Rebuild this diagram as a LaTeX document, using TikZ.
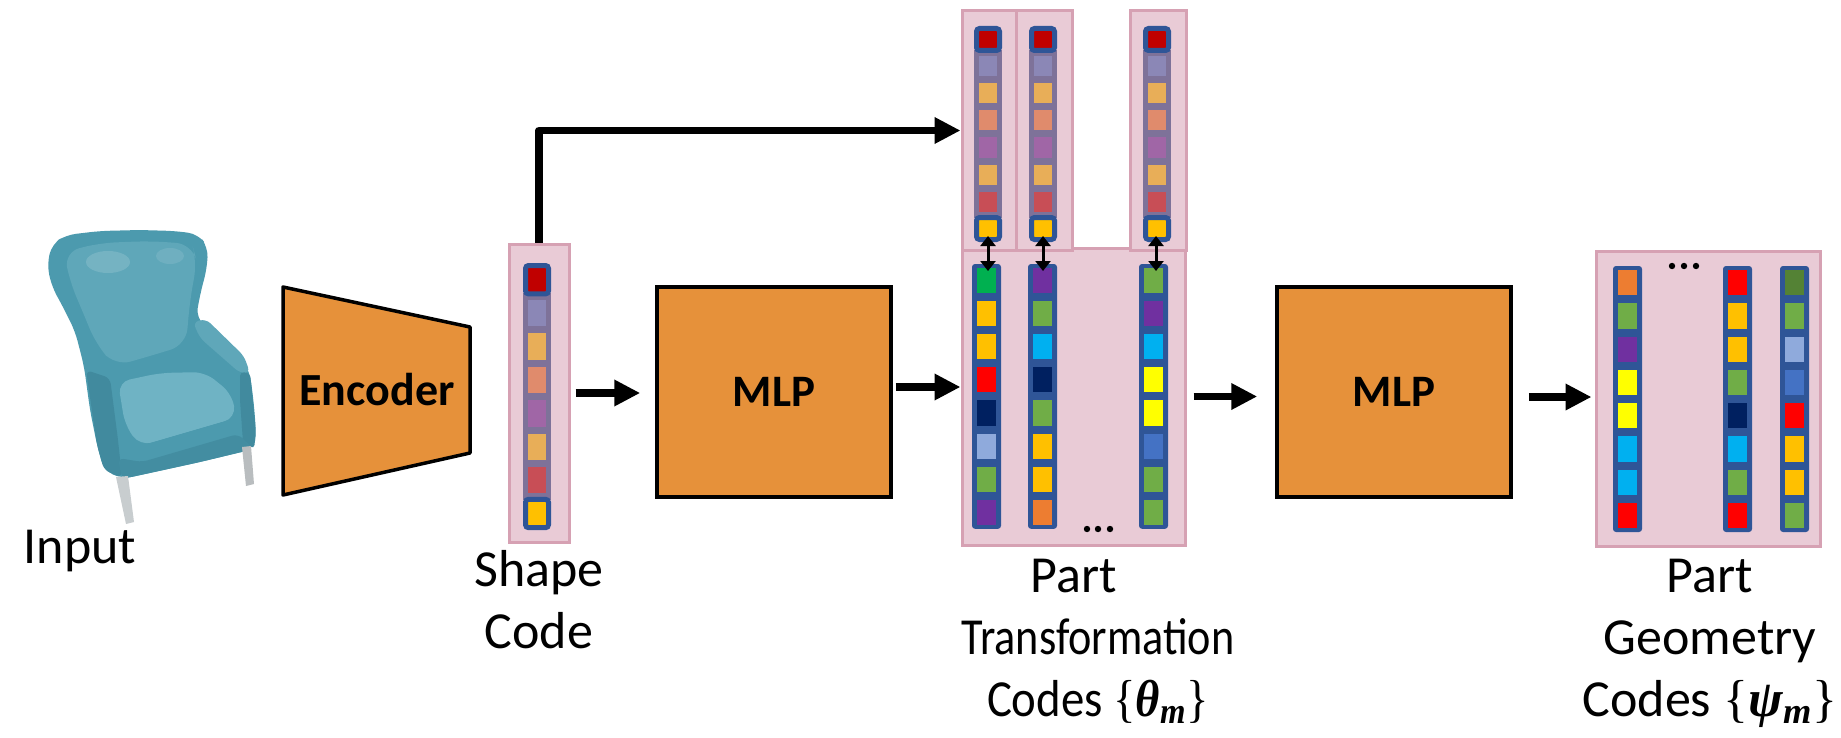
\documentclass[tikz,border=0pt]{standalone}
\usepackage{fontspec}
\setmainfont{Carlito}
\newfontfamily\greekserif{Liberation Serif}
\usetikzlibrary{arrows.meta,fit}

% box and frame colours
\definecolor{boxorange}{HTML}{E6913A}
\definecolor{codeblue}{HTML}{2F5597}
\definecolor{fadeblue}{HTML}{7E7299}
\definecolor{pinkfill}{HTML}{E9CBD6}
\definecolor{pinkline}{HTML}{D6A1B3}
% code entries
\definecolor{cgreen}{HTML}{00B050}
\definecolor{cgold}{HTML}{FFC000}
\definecolor{cred}{HTML}{FF0000}
\definecolor{cnavy}{HTML}{002060}
\definecolor{cpale}{HTML}{8FAADC}
\definecolor{clime}{HTML}{70AD47}
\definecolor{cpurple}{HTML}{7030A0}
\definecolor{ccyan}{HTML}{00B0F0}
\definecolor{corange}{HTML}{ED7D31}
\definecolor{cyellow}{HTML}{FFFF00}
\definecolor{cblue}{HTML}{4472C4}
\definecolor{cdkgreen}{HTML}{548235}
\definecolor{cdkred}{HTML}{C00000}
% faded entries of the shape code
\definecolor{flav}{HTML}{8B87B6}
\definecolor{forange}{HTML}{E8AE58}
\definecolor{fsalmon}{HTML}{E08B6C}
\definecolor{fpurple}{HTML}{A066A6}
\definecolor{frose}{HTML}{C84E56}
% chair
\definecolor{chairbase}{HTML}{4C9AAE}
\definecolor{chairdark}{HTML}{418A9E}
\definecolor{chairlight}{HTML}{5FA7B9}
\definecolor{chairseat}{HTML}{6FB3C4}
\definecolor{chairleg}{HTML}{C8CDCF}

% a column of eight entries: x, top y, width, pitch, colours
\newcommand\codecolumn[5]{%
  \fill[codeblue, rounded corners=1.5pt] (#1,#2) rectangle ({#1+#3},{#2+8*#4});
  \foreach \cc [count=\ii from 0] in {#5}
    \fill[\cc] ({#1+5},{#2+\ii*#4+4}) rectangle ({#1+#3-5},{#2+(\ii+1)*#4-4});
}
% the shape code column, with its middle entries faded: x, top y, width, pitch
\newcommand\fadedcolumn[4]{%
  \fill[fadeblue] (#1,{#2+#4-3}) rectangle ({#1+#3},{#2+7*#4+3});
  \foreach \cc [count=\ii from 1] in {flav,forange,fsalmon,fpurple,forange,frose}
    \fill[\cc] ({#1+5},{#2+\ii*#4+3.5}) rectangle ({#1+#3-5},{#2+(\ii+1)*#4-3.5});
  \filldraw[fill=cdkred, draw=codeblue, line width=2.5pt, rounded corners=1.5pt]
    ({#1+2.5},{#2+2.5}) rectangle ({#1+#3-2.5},{#2+#4-2.5});
  \filldraw[fill=cgold, draw=codeblue, line width=2.5pt, rounded corners=1.5pt]
    ({#1+2.5},{#2+7*#4+2.5}) rectangle ({#1+#3-2.5},{#2+8*#4-2.5});
}

\begin{document}
\begin{tikzpicture}[x=0.5pt,y=-0.5pt,
  pinkbox/.style={draw=pinkline, fill=pinkfill, line width=1.5pt, inner sep=0pt},
  mlpbox/.style={draw=black, fill=boxorange, line width=1.75pt, inner sep=0pt,
    font=\bfseries\fontsize{22.5}{27}\selectfont},
  lbl/.style={font=\fontsize{26}{31}\selectfont, inner sep=0pt, align=center},
  arr/.style={line width=3.75pt, line join=round, -{Triangle[length=13pt,width=12.5pt]}},
  darr/.style={line width=1.5pt,
    {Triangle[length=5pt,width=7.5pt]}-{Triangle[length=5pt,width=7.5pt]}},
  dot/.style={fill=black, circle, inner sep=0pt, minimum size=3.2pt}
]
\useasboundingbox (0,0) rectangle (1841,738);

% ---------- input chair ----------
\begin{scope}
  \fill[chairbase, rounded corners=5pt]
    (47,265) -- (52,244) -- (66,235) -- (100,231) -- (140,230) -- (175,231)
    -- (198,234) -- (208,247) -- (207,268) -- (200,295) -- (196,318)
    -- (218,337) -- (242,358) -- (250,373) -- (254,405) -- (256,432)
    -- (254,449) -- (200,462) -- (150,473) -- (122,479) -- (104,470)
    -- (97,445) -- (90,410) -- (84,366) -- (75,331) -- (62,305) -- (52,287) -- cycle;
  % inner face of the back
  \fill[chairlight, rounded corners=8pt]
    (64,252) -- (100,243) -- (150,241) -- (192,244) -- (197,262) -- (190,300)
    -- (186,345) -- (150,356) -- (115,366) -- (96,344) -- (82,310) -- (70,282) -- cycle;
  \fill[white, opacity=0.14] (108,262) ellipse [x radius=22, y radius=11];
  \fill[white, opacity=0.10] (170,256) ellipse [x radius=14, y radius=8];
  % right arm
  \fill[chairlight, rounded corners=3pt]
    (193,322) -- (206,319) -- (244,356) -- (250,373) -- (240,373) -- (200,338) -- cycle;
  \fill[chairdark, rounded corners=2pt]
    (240,372) -- (250,373) -- (256,432) -- (254,449) -- (243,442) -- (240,400) -- cycle;
  % left arm front
  \fill[chairdark, rounded corners=3pt]
    (86,370) -- (110,378) -- (118,440) -- (122,478) -- (104,470) -- (97,445) -- cycle;
  % seat cushion
  \fill[chairseat, rounded corners=6pt]
    (118,382) -- (160,373) -- (205,372) -- (232,394) -- (236,418) -- (195,430)
    -- (140,446) -- (125,425) -- cycle;
  \fill[chairbase, rounded corners=3pt]
    (125,428) -- (140,446) -- (236,418) -- (238,431) -- (142,459) -- (128,442) -- cycle;
  % front skirt
  \fill[chairdark!80!chairbase, rounded corners=3pt]
    (118,458) -- (142,462) -- (238,434) -- (254,449) -- (200,462) -- (122,479) -- cycle;
  % legs
  \fill[chairleg] (116,477) -- (128,476) -- (134,522) -- (126,524) -- cycle;
  \fill[chairleg!80!gray] (242,447) -- (251,446) -- (254,484) -- (246,486) -- cycle;
\end{scope}
\node[lbl, anchor=base] (inputlbl) at (80,563) {Input};

% ---------- encoder ----------
\draw[fill=boxorange, line width=1.75pt, line join=round]
  (283,287) -- (470,327) -- (470,453) -- (283,495) -- cycle;
\node[font=\bfseries\fontsize{23}{27}\selectfont, inner sep=0pt] (enc) at (377,390) {Encoder};

% ---------- shape code ----------
\node[pinkbox, fit={(509,244) (569,542)}] (shape) {};
\fadedcolumn{523}{263}{28}{33.4}
% multi-line labels are placed by the baseline of their last line
\node[lbl, anchor=base] (shapelbl) at (539,648) {Shape\\Code};

% ---------- first MLP ----------
\node[mlpbox, minimum width=117pt, minimum height=105pt] (mlp1) at (774,392) {MLP};

% ---------- part transformation codes ----------
\node[pinkbox, fit={(962,248) (1185,545)}] (parts) {};
\node[pinkbox, fit={(962,11) (1018,250)}] (top1) {};
\node[pinkbox, fit={(1016,11) (1072,250)}] (top2) {};
\node[pinkbox, fit={(1130,11) (1186,250)}] (top3) {};
\fadedcolumn{974}{26}{28}{27}
\fadedcolumn{1029}{26}{28}{27}
\fadedcolumn{1143}{26}{28}{27}
\codecolumn{972}{264}{29}{33.1}{cgreen,cgold,cgold,cred,cnavy,cpale,clime,cpurple}
\codecolumn{1028}{264}{29}{33.1}{cpurple,clime,ccyan,cnavy,clime,cgold,cgold,corange}
\codecolumn{1139}{264}{29}{33.1}{clime,cpurple,ccyan,cyellow,cyellow,cblue,clime,clime}
\node[dot] (pd1) at (1087,529) {};
\node[dot] (pd2) at (1098,529) {};
\node[dot] (pd3) at (1110,529) {};
\coordinate (ta1) at (988,236);  \coordinate (ba1) at (988,271);
\coordinate (ta2) at (1043,236); \coordinate (ba2) at (1043,271);
\coordinate (ta3) at (1156,236); \coordinate (ba3) at (1156,271);
\draw[darr] (ta1) -- (ba1);
\draw[darr] (ta2) -- (ba2);
\draw[darr] (ta3) -- (ba3);
\node[lbl, anchor=base] (partlbl) at (1098,716)
  {\hspace*{-24pt}Part\\\scalebox{0.85}[1]{Transformation}\\
   \scalebox{0.9}[1]{Codes {\greekserif\{\textbf{\textit{θ}\textsubscript{\textit{m}}}\}}}};

% ---------- second MLP ----------
\node[mlpbox, minimum width=117pt, minimum height=105pt] (mlp2) at (1394,392) {MLP};

% ---------- part geometry codes ----------
\node[pinkbox, fit={(1596,251) (1820,546)}] (geom) {};
\codecolumn{1613}{266}{29}{33.25}{corange,clime,cpurple,cyellow,cyellow,ccyan,ccyan,cred}
\codecolumn{1723}{266}{29}{33.25}{cred,cgold,cgold,clime,cnavy,ccyan,clime,cred}
\codecolumn{1780}{266}{29}{33.25}{cdkgreen,clime,cpale,cblue,cred,cgold,cgold,clime}
\node[dot] (gd1) at (1672,266) {};
\node[dot] (gd2) at (1684,266) {};
\node[dot] (gd3) at (1696,266) {};
\node[lbl, anchor=base] (geomlbl) at (1710,716)
  {Part\\Geometry\\Codes {\greekserif\{\textbf{\textit{ψ}\textsubscript{\textit{m}}}\}}};

% ---------- connectors ----------
\draw[arr] (shape.north) |- (top1.west);
\draw[arr, shorten <=2.5pt, shorten >=7.5pt] (shape.east) -- (shape.east -| mlp1.west);
\draw[arr, shorten <=1.5pt] ([yshift=2.5pt]mlp1.east) -- ([yshift=2.5pt]mlp1.east -| parts.west);
\draw[arr, shorten <=3.5pt, shorten >=9pt] (parts.east) -- (parts.east -| mlp2.west);
\draw[arr, shorten <=8pt, shorten >=1.5pt] ([yshift=-2.5pt]mlp2.east) -- ([yshift=-2.5pt]mlp2.east -| geom.west);
\end{tikzpicture}
\end{document}
